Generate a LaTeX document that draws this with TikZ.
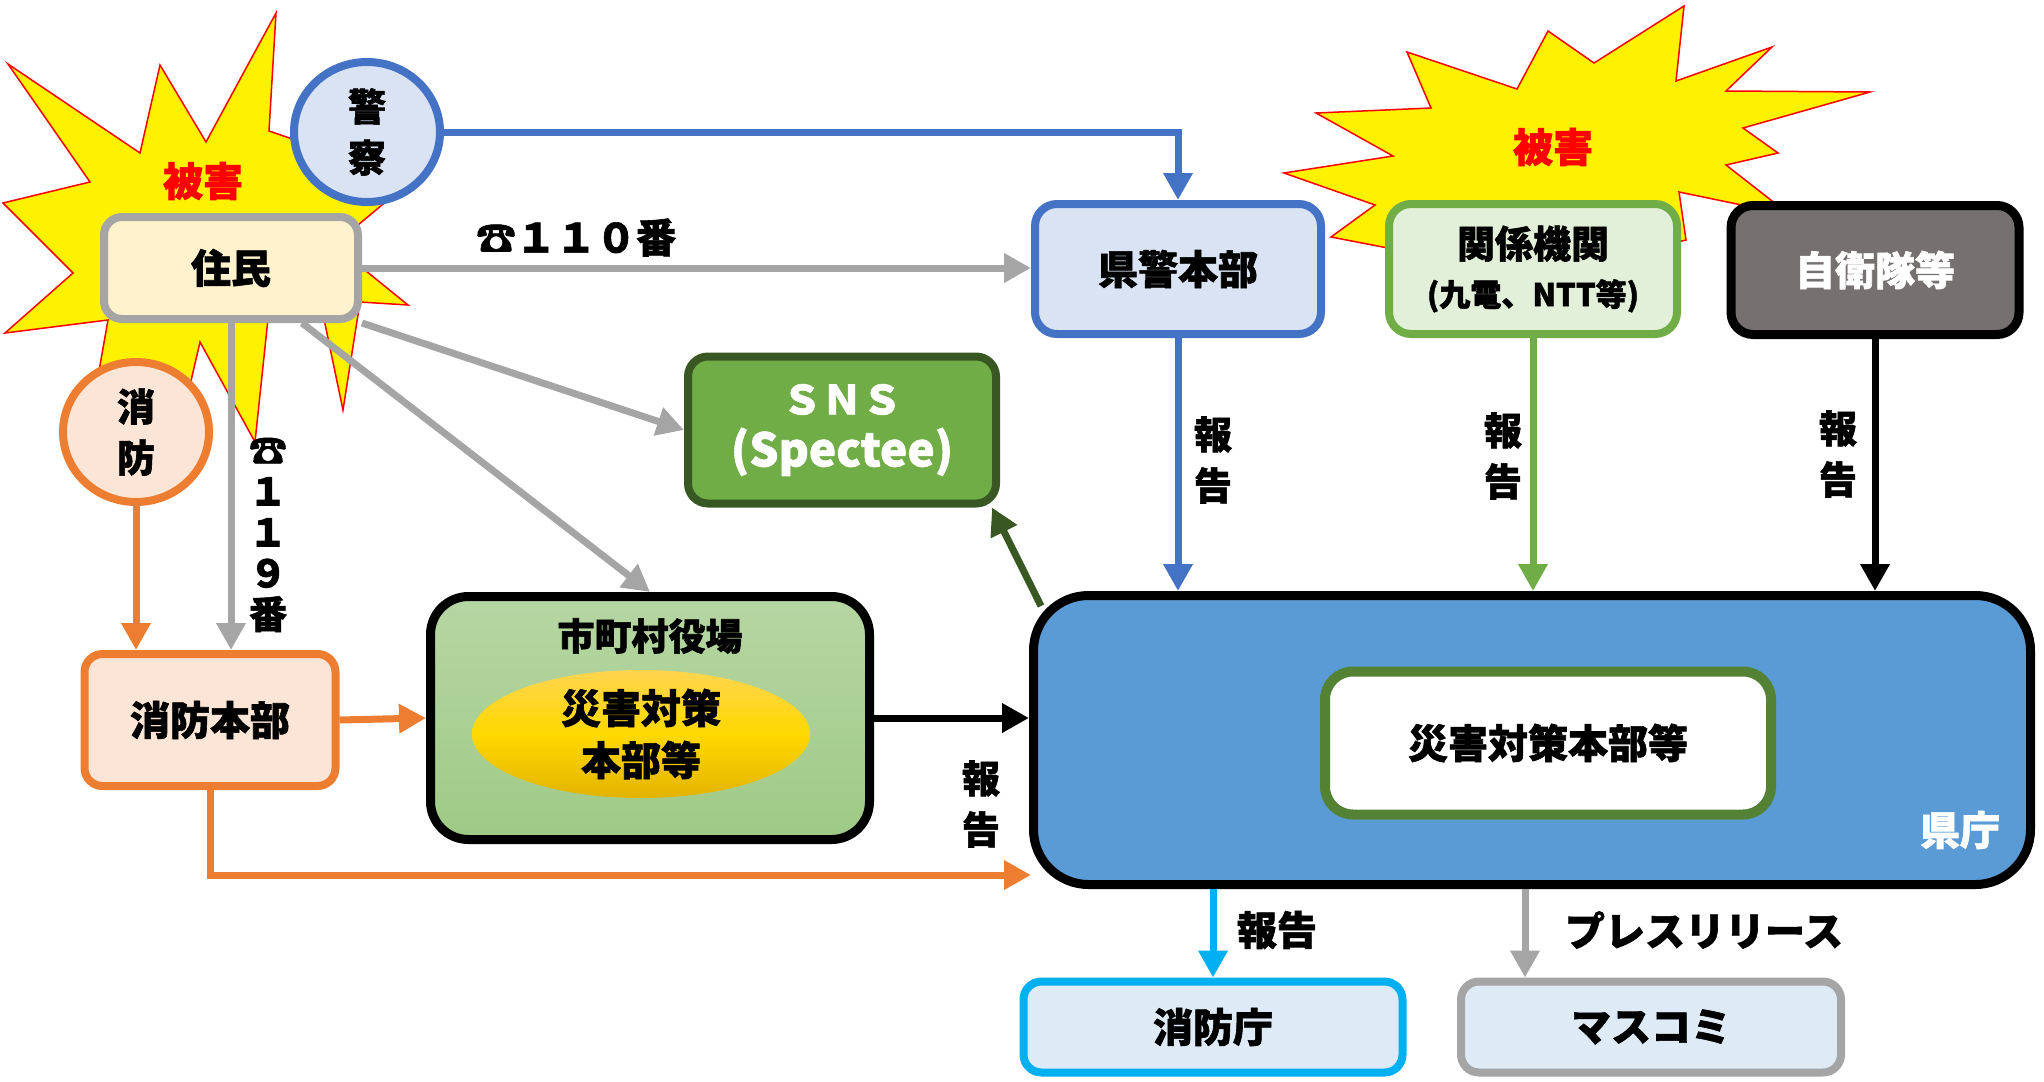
\documentclass[tikz,border=0pt]{standalone}
\usepackage{fontspec}
\setmainfont{Noto Sans CJK JP}[BoldFeatures={FakeBold=1.5}]
\usetikzlibrary{arrows.meta,shapes.geometric}
\newcommand{\fsz}[2]{\fontsize{#1}{#2}\selectfont}
\definecolor{pBlue}{HTML}{4472C4}
\definecolor{pBlueFill}{HTML}{DAE3F3}
\definecolor{pOrange}{HTML}{ED7D31}
\definecolor{pOrangeFill}{HTML}{FBE5D6}
\definecolor{pGray}{HTML}{A5A5A5}
\definecolor{pCream}{HTML}{FFF2CC}
\definecolor{pGreen}{HTML}{70AD47}
\definecolor{pGreenFill}{HTML}{E2F0D9}
\definecolor{pDkGreen}{HTML}{385723}
\definecolor{pMidGreen}{HTML}{548235}
\definecolor{pSky}{HTML}{00B0F0}
\definecolor{pSkyFill}{HTML}{DEEBF7}
\definecolor{pKencho}{HTML}{5B9BD5}
\definecolor{pDark}{HTML}{767171}
\definecolor{pGoldTop}{HTML}{FFD550}
\definecolor{pGoldBot}{HTML}{E3B300}
\definecolor{pLeafTop}{HTML}{B6D6A3}
\definecolor{pLeafBot}{HTML}{9FCA86}

\begin{document}
\begin{tikzpicture}[x=1pt,y=-1pt,
    every node/.style={font=\bfseries\fsz{40}{48},inner sep=0pt,align=center},
    rbox/.style={rectangle,rounded corners=18pt,line width=8pt},
    oval/.style={ellipse,line width=8pt,minimum width=146pt,minimum height=140pt},
    arr/.style={line width=7pt,-{Stealth[inset=0pt,length=27pt,width=28pt]}},
    burst/.style={fill=yellow,draw=red,line width=1.5pt},
    vlabel/.style={font=\bfseries\fsz{38}{51}}]
    \useasboundingbox (0,0) rectangle (2044,1081);

    \filldraw[burst] (8,64) -- (140,153) -- (160,65) -- (206,142) -- (276,13) -- (269,131)
        -- (412,180) -- (334,245) -- (408,305) -- (360,302) -- (343,410) -- (320,300)
        -- (295,250) -- (270,300) -- (255,442) -- (200,342) -- (175,450) -- (140,400)
        -- (85,450) -- (108,320) -- (5,333) -- (73,273) -- (3,203) -- (90,182) -- cycle;
    \filldraw[burst] (1684,6) -- (1676,81) -- (1772,47) -- (1726,91) -- (1870,92) -- (1743,128)
        -- (1778,153) -- (1726,165) -- (1790,215) -- (1679,192) -- (1686,240) -- (1600,260)
        -- (1530,300) -- (1450,260) -- (1331,237) -- (1375,205) -- (1284,173) -- (1393,156)
        -- (1316,113) -- (1431,108) -- (1407,52) -- (1517,89) -- (1548,31) -- (1594,63) -- cycle;
    \node[text=red] (higai1) at (203,181) {被害};
    \node[text=red] (higai2) at (1553,147) {被害};

    \node[oval,draw=pBlue,fill=pBlueFill,font=\bfseries\fsz{38}{51}] (keisatsu) at (367,132) {警\\察};
    \node[rbox,draw=pGray,fill=pCream,minimum width=254pt,minimum height=102pt] (jumin) at (231,268) {住民};
    \node[oval,draw=pOrange,fill=pOrangeFill,font=\bfseries\fsz{38}{51}] (shobo) at (136,432) {消\\防};
    \node[rbox,draw=pOrange,fill=pOrangeFill,minimum width=251pt,minimum height=132pt] (shobohq) at (210,720) {消防本部};

    \node[draw=black,line width=9pt,rounded corners=38pt,top color=pLeafTop,bottom color=pLeafBot,
        minimum width=439pt,minimum height=243pt] (shichoson) at (650,718) {};
    \node[font=\bfseries\fsz{37}{44}] (shichosonTitle) at (650,636) {市町村役場};
    \node[ellipse,top color=pGoldTop,bottom color=pGoldBot,middle color=yellow!70!orange,
        minimum width=338pt,minimum height=128pt,font=\bfseries\fsz{40}{52}] (saitaiA) at (641,734) {災害対策\\本部等};

    \node[rbox,draw=pDkGreen,fill=pGreen,text=white,rounded corners=20pt,
        minimum width=308pt,minimum height=147pt,font=\bfseries\fsz{40}{52}] (sns) at (842,430) {ＳＮＳ\\{\fsz{46}{52}(Spectee)}};

    \node[rbox,draw=pBlue,fill=pBlueFill,rounded corners=22pt,minimum width=286pt,minimum height=130pt] (kenkei) at (1178,269) {県警本部};
    \node[rbox,draw=pGreen,fill=pGreenFill,rounded corners=22pt,minimum width=288pt,minimum height=130pt,
        font=\bfseries\fsz{38}{48}] (kankei) at (1533,269) {関係機関\\{\fsz{31}{40}(九電、NTT等)}};
    \node[rbox,draw=black,fill=pDark,text=white,line width=9pt,rounded corners=22pt,
        minimum width=288pt,minimum height=129pt] (jieitai) at (1875,270) {自衛隊等};

    \node[draw=black,line width=9pt,rounded corners=55pt,fill=pKencho,
        minimum width=997pt,minimum height=289pt] (kencho) at (1532,740) {};
    \node[rbox,draw=pMidGreen,fill=white,line width=10pt,rounded corners=28pt,
        minimum width=446pt,minimum height=143pt] (saitaiB) at (1548,743) {災害対策本部等};
    \node[text=white] (kenchoLabel) at (1960,830) {県庁};

    \node[rbox,draw=pSky,fill=pSkyFill,minimum width=379pt,minimum height=91pt] (shobocho) at (1213,1027) {消防庁};
    \node[rbox,draw=pGray,fill=pSkyFill,minimum width=380pt,minimum height=91pt] (masukomi) at (1651,1027) {マスコミ};

    \coordinate (fdin) at (1031,875);
    \coordinate (snsfoot) at (1041,606);

    \draw[arr,draw=pBlue] (keisatsu) -| (kenkei);
    \draw[arr,draw=pGray] (jumin.east) -- (jumin.east -| kenkei.west)
        node[pos=0.32,above=8pt] (tel110) {☎１１０番};
    \draw[arr,draw=pGray] (jumin.south east) -- (sns.west);
    \draw[arr,draw=pGray] ([xshift=71pt]jumin.south) -- (shichoson.north);
    \draw[arr,draw=pGray] (jumin) -- (jumin |- shobohq.north);
    \node[font=\bfseries\fsz{38}{41}] (tel119) at (268,535) {☎\\１\\１\\９\\番};
    \draw[arr,draw=pOrange] (shobo) -- (shobo |- shobohq.north);
    \draw[arr,draw=pOrange] (shobohq.east) -- (shichoson.west);
    \draw[arr,draw=pOrange] (shobohq.south) |- (fdin);
    \draw[arr,draw=black] (shichoson.east) -- (shichoson.east -| kencho.west);
    \node[vlabel] (rep0) at (981,804) {報\\告};

    \draw[arr,draw=pBlue] (kenkei) -- (kenkei |- kencho.north);
    \draw[arr,draw=pGreen] (kankei) -- (kankei |- kencho.north);
    \draw[arr,draw=black] (jieitai) -- (jieitai |- kencho.north);
    \node[vlabel] (rep1) at (1213,460) {報\\告};
    \node[vlabel] (rep2) at (1503,456) {報\\告};
    \node[vlabel] (rep3) at (1838,454) {報\\告};
    \draw[arr,draw=pDkGreen] (snsfoot) -- ([xshift=-8pt]sns.south east);

    \draw[arr,draw=pSky] (shobocho |- kencho.south) -- (shobocho.north);
    \draw[arr,draw=pGray] ([xshift=-126pt]masukomi.north |- kencho.south) -- ([xshift=-126pt]masukomi.north);
    \node (rep4) at (1277,930) {報告};
    \node (press) at (1704,930) {プレスリリース};
\end{tikzpicture}
\end{document}
